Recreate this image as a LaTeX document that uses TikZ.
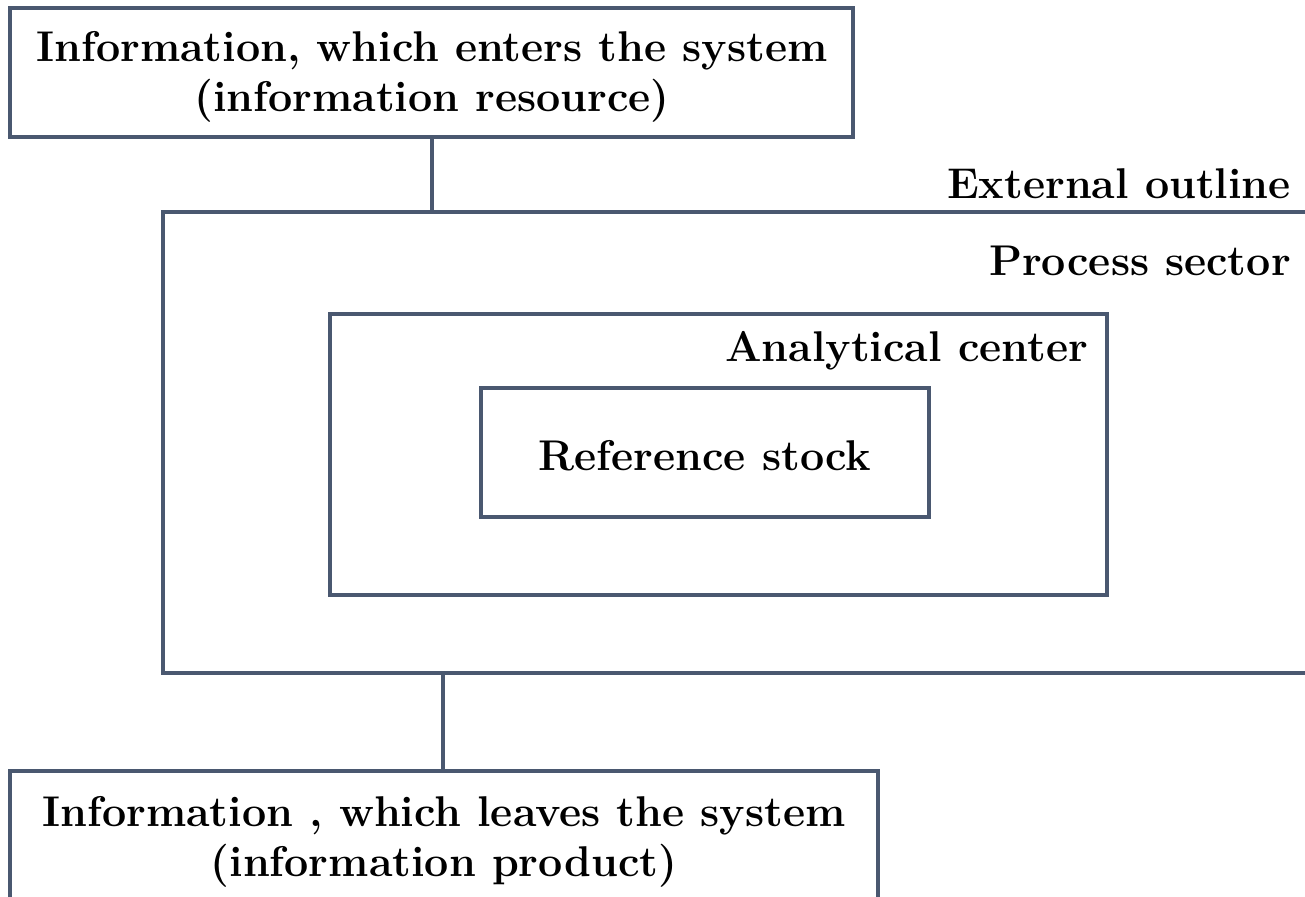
\documentclass[tikz,border=0pt]{standalone}
\usetikzlibrary{positioning}
\definecolor{edge}{HTML}{4A5870}
\begin{document}
\begin{tikzpicture}[x=1pt,y=-1pt,
  frame/.style={draw=edge,line width=3.2pt,fill=none},
  label/.style={font=\fontsize{43}{50}\selectfont\bfseries,inner sep=0pt,align=center},
  link/.style={draw=edge,line width=3.2pt}]
\useasboundingbox (0,0) rectangle (1305,896);
\clip (0,0) rectangle (1305,896);
% boxes
\draw[frame] (163,212) rectangle (1320,673);
\draw[frame] (330,314) rectangle (1107,595);
\draw[frame] (481,388) rectangle (929,517);
\draw[frame] (10,8) rectangle (853,137);
\draw[frame] (10,771) rectangle (878,910);
% texts
\node[label] (src) at (432,77) {Information, which enters the system\\(information resource)};
\node[label,anchor=east] (outer) at (1291,184) {External outline};
\node[label,anchor=east] (proc) at (1291,261) {Process sector};
\node[label,anchor=east] (anal) at (1088,351) {Analytical center};
\node[label] (stock) at (705,456) {Reference stock};
\node[label] (prod) at (444,842) {Information , which leaves the system\\(information product)};
% connectors
\coordinate (srcbot) at (432,137);
\coordinate (outtop) at (432,212);
\coordinate (outbot) at (443,673);
\coordinate (prodtop) at (443,771);
\draw[link] (srcbot) -- (outtop);
\draw[link] (outbot) -- (prodtop);
\end{tikzpicture}
\end{document}
